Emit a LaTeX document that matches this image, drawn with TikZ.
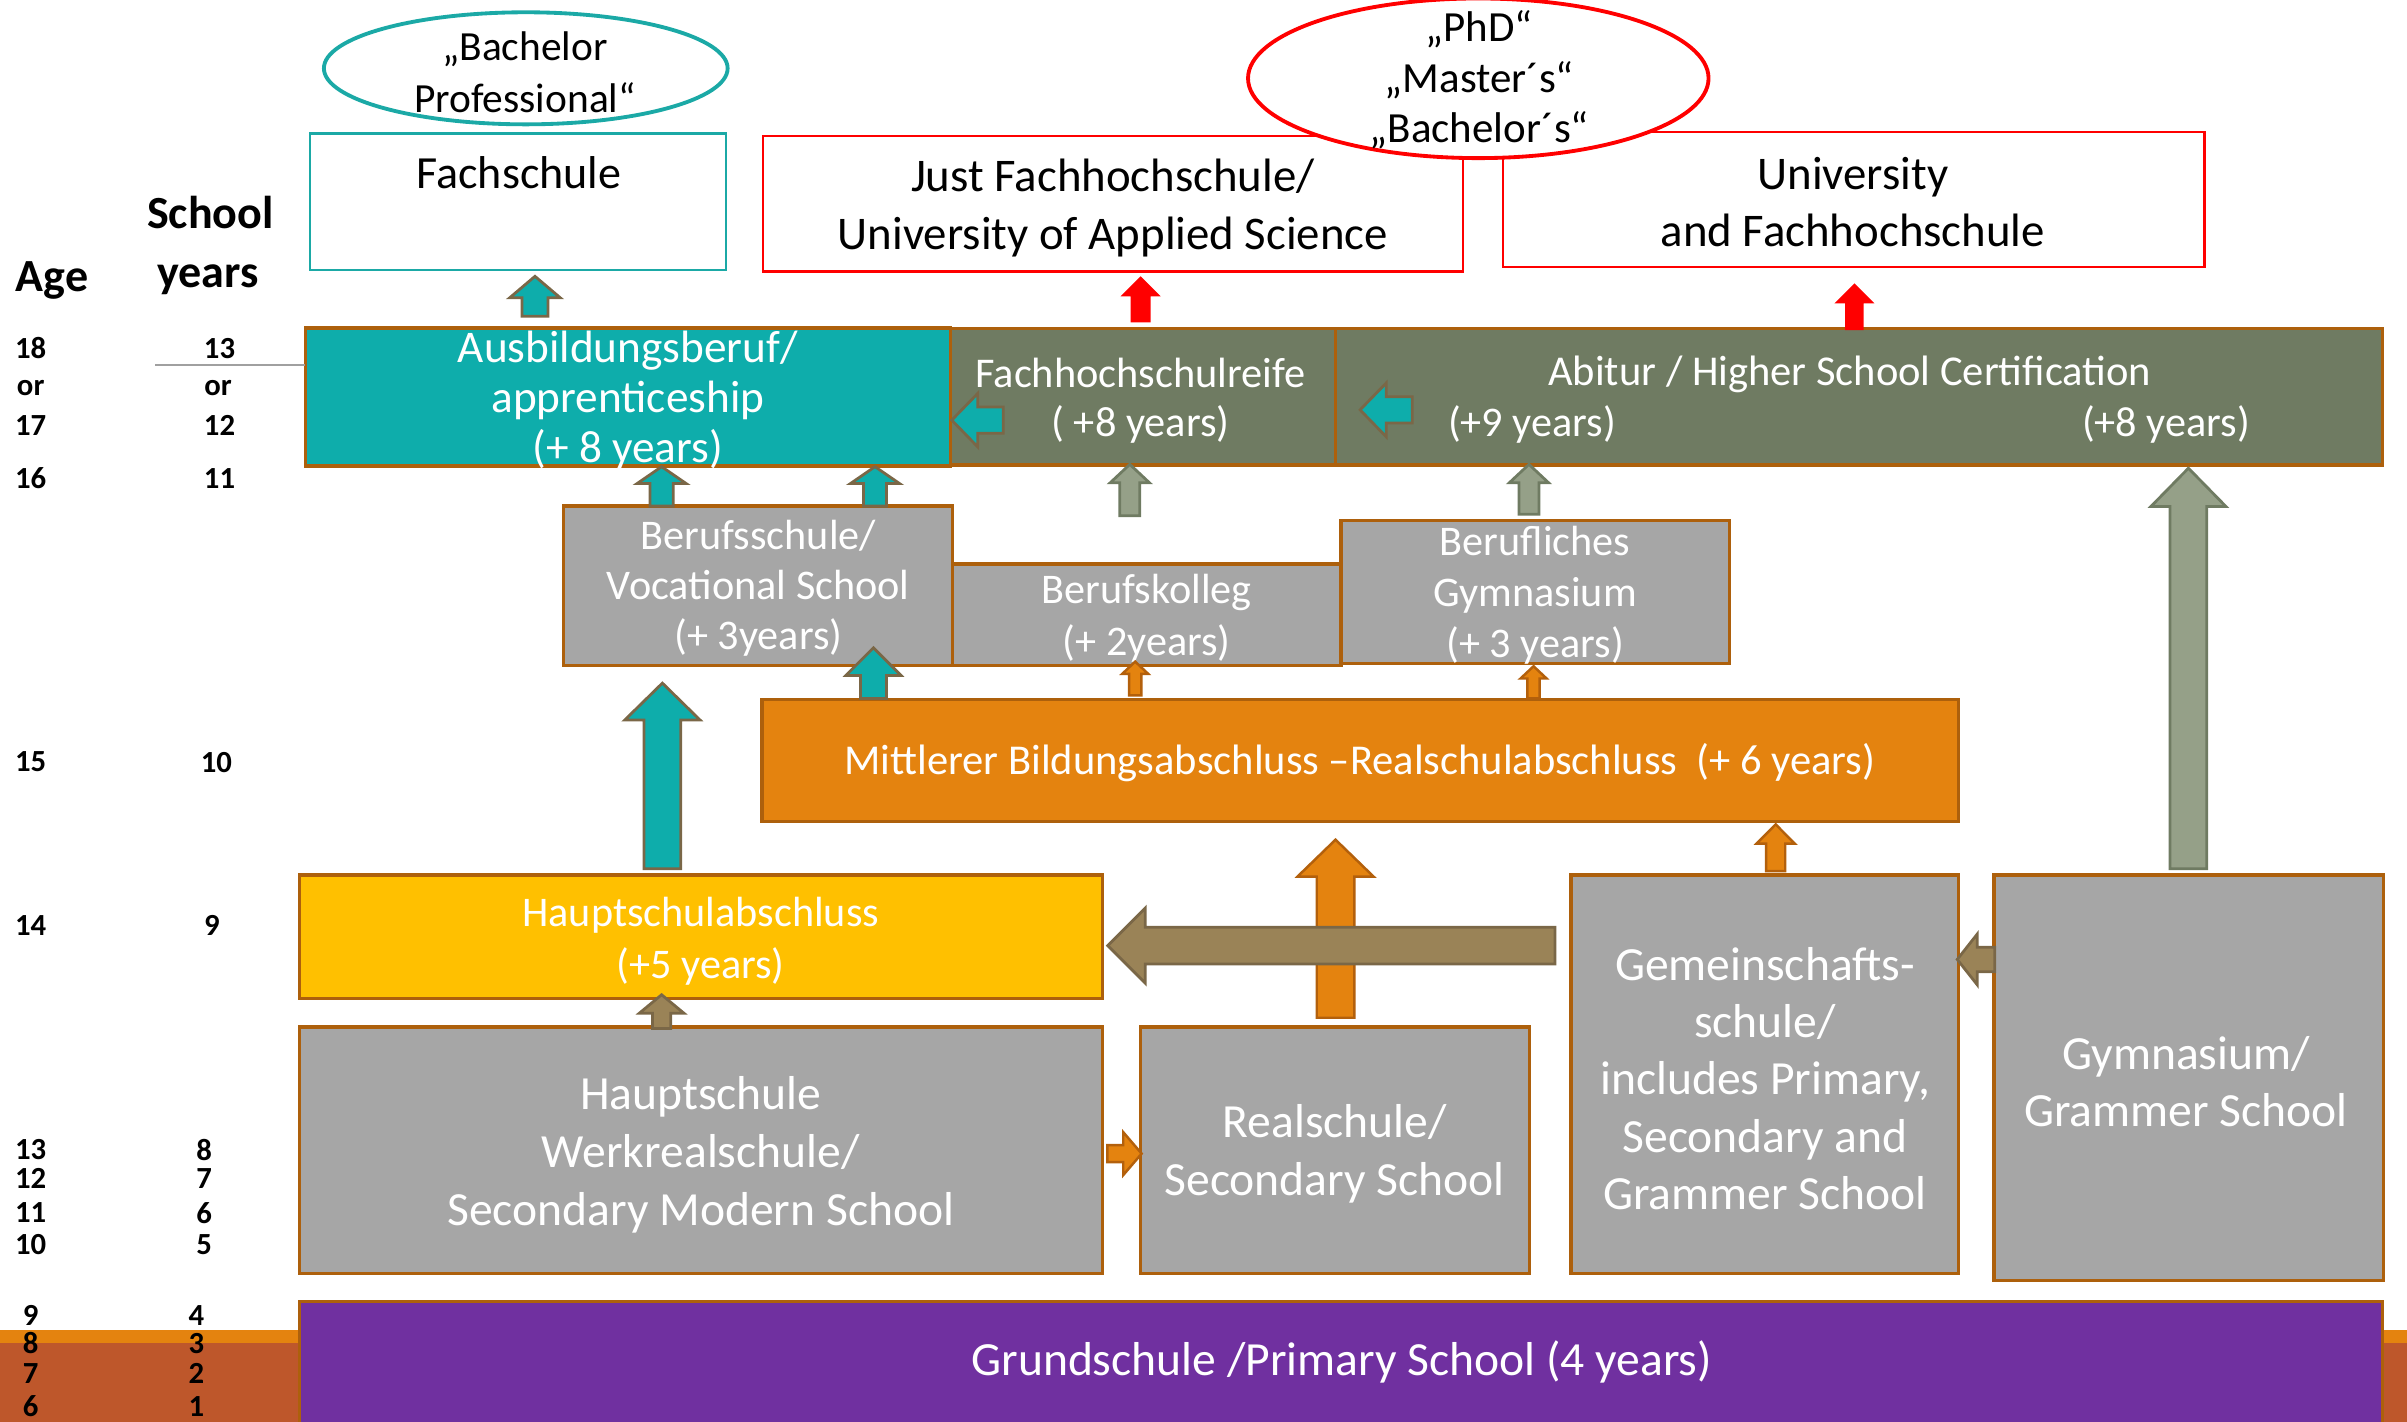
\documentclass[tikz,border=0pt]{standalone}
\usepackage{fontspec}
\setmainfont{Carlito}
\usetikzlibrary{calc,shapes.geometric}
\definecolor{tealc}{HTML}{0EADAB}
\definecolor{tealln}{HTML}{1BA9A6}
\definecolor{olivec}{HTML}{6F7B62}
\definecolor{bordc}{HTML}{AD600C}
\definecolor{grayc}{HTML}{A6A6A6}
\definecolor{orangec}{HTML}{E4830F}
\definecolor{goldc}{HTML}{FFC000}
\definecolor{purplec}{HTML}{7030A0}
\definecolor{rustc}{HTML}{BE572B}
\definecolor{arrbrown}{HTML}{7A6747}
\definecolor{brownc}{HTML}{9A8357}
\definecolor{ggfill}{HTML}{95A088}
\definecolor{orline}{HTML}{B3600C}
\definecolor{redc}{HTML}{FF0000}
\definecolor{linec}{HTML}{A0A0A0}

\newcommand\fs[2]{\fontsize{#1}{#2}\selectfont}
% block arrows: style, start, end, shaft width, head width, head length
\newcommand\blkup[6]{\path[#1] let \p1=(#2), \p2=(#3) in
  ({\x1-#4/2},\y1) -- ({\x1-#4/2},{\y2-#6}) -- ({\x1-#5/2},{\y2-#6}) -- (\x1,\y2)
  -- ({\x1+#5/2},{\y2-#6}) -- ({\x1+#4/2},{\y2-#6}) -- ({\x1+#4/2},\y1) -- cycle;}
\newcommand\blkleft[6]{\path[#1] let \p1=(#2), \p2=(#3) in
  (\x1,{\y1+#4/2}) -- ({\x2+#6},{\y1+#4/2}) -- ({\x2+#6},{\y1+#5/2}) -- (\x2,\y1)
  -- ({\x2+#6},{\y1-#5/2}) -- ({\x2+#6},{\y1-#4/2}) -- (\x1,{\y1-#4/2}) -- cycle;}
\newcommand\blkright[6]{\path[#1] let \p1=(#2), \p2=(#3) in
  (\x1,{\y1+#4/2}) -- ({\x2-#6},{\y1+#4/2}) -- ({\x2-#6},{\y1+#5/2}) -- (\x2,\y1)
  -- ({\x2-#6},{\y1-#5/2}) -- ({\x2-#6},{\y1-#4/2}) -- (\x1,{\y1-#4/2}) -- cycle;}

\tikzset{
  box/.style={draw=bordc, line width=2.2pt, inner sep=0pt, outer sep=0pt, anchor=north west},
  topbox/.style={draw=redc, line width=1.6pt, fill=white, inner sep=0pt, outer sep=0pt, anchor=north west},
  wtxt/.style={inner sep=0pt, align=center, text=white},
  btxt/.style={inner sep=0pt, align=center, text=black},
  num/.style={inner sep=0pt, font=\bfseries\fs{20}{24}},
  tealarr/.style={fill=tealc, draw=arrbrown, line width=1.8pt},
  grarr/.style={fill=ggfill, draw=olivec, line width=1.8pt},
  redarr/.style={fill=redc},
  orarr/.style={fill=orangec, draw=orline, line width=1.6pt},
  brarr/.style={fill=brownc, draw=arrbrown, line width=1.8pt},
}

\begin{document}
\begin{tikzpicture}[x=1pt,y=-1pt]
\useasboundingbox (0,0) rectangle (1568,926);

% background bands
\fill[orangec] (0,866.5) rectangle (1568,875);
\fill[rustc] (0,875) rectangle (1568,940);

% left labels
\node[inner sep=0pt, anchor=base, font=\bfseries\fs{30}{36}] (agehead) at (34,190) {Age};
\node[inner sep=0pt, anchor=base, font=\bfseries\fs{30}{36}] (schoolhead) at (137,149) {School};
\node[inner sep=0pt, anchor=base, font=\bfseries\fs{30}{36}] (yearshead) at (135.5,187) {years};

\foreach \y/\t/\n in {227/18/ag1, 253/or/ag2, 277/17/ag3, 311.5/16/ag4, 496/15/ag5, 603/14/ag6,
  749/13/ag7, 767.6/12/ag8, 790/11/ag9, 811/10/ag10, 857/9/ag11, 875/8/ag12, 895/7/ag13, 916/6/ag14}
  \node[num] (\n) at (20,\y) {\t};
\foreach \x/\y/\t/\n in {143/227/13/sy1, 142/253/or/sy2, 143/277/12/sy3, 143/311.5/11/sy4,
  141/497/10/sy5, 138/603/9/sy6, 133/749/8/sy7, 133/767.6/7/sy8, 133/790/6/sy9, 133/811/5/sy10,
  128/857/4/sy11, 128/875/3/sy12, 128/895/2/sy13, 128/916/1/sy14}
  \node[num] (\n) at (\x,\y) {\t};

% top boxes
\node[topbox, draw=tealln, minimum width=271pt, minimum height=89pt] (fach) at (202,87) {};
\node[topbox, minimum width=456pt, minimum height=88.4pt] (justfh) at (497,88.6) {};
\node[topbox, minimum width=457pt, minimum height=88pt] (uni) at (979,86) {};
\node[ellipse, draw=tealln, line width=2.5pt, fill=white, minimum width=263pt, minimum height=73pt, inner sep=0pt] (bachprof) at (342.5,44.5) {};
\node[ellipse, draw=redc, line width=2.5pt, fill=white, minimum width=300pt, minimum height=104pt, inner sep=0pt] (degrees) at (963,51) {};

\node[btxt, font=\fs{27}{33.7}] (bachproft) at (342,47) {„Bachelor\\Professional“};
\node[btxt, anchor=base, font=\fs{30}{36}] (facht) at (338,123) {Fachschule};
\node[btxt, font=\fs{30.5}{38}] (justfht) at (725,135.4) {Just Fachhochschule/\\University of Applied Science};
\node[btxt, font=\fs{28}{33}] (degreest) at (963.5,52) {„PhD“\\„Master´s“\\„Bachelor´s“};
\node[btxt, font=\fs{30.5}{37}] (unit) at (1207,131.4) {University\\and Fachhochschule};

% certificate row
\node[box, fill=tealc, minimum width=420pt, minimum height=90pt] (ausb) at (199,213.6) {};
\node[box, fill=olivec, minimum width=251pt, minimum height=89pt] (fhr) at (619,214) {};
\node[box, fill=olivec, minimum width=682pt, minimum height=89pt] (abi) at (870,214) {};
\coordinate (lnstart) at (101,238);
\draw[linec, line width=1.2pt] (lnstart) -- (lnstart -| ausb.west);

\node[wtxt, font=\fs{29.5}{32.6}] (ausbt) at (409,260.8) {Ausbildungsberuf/\\apprenticeship\\(+ 8 years)};
\node[wtxt, font=\fs{27.6}{31.5}] (fhrt) at (743,261) {Fachhochschulreife\\( +8 years)};
\node[wtxt, anchor=base, font=\fs{27.7}{32}] (abit) at (1205,251) {Abitur / Higher School Certification};
\node[wtxt, anchor=base, font=\fs{27.5}{32}] (abi9) at (998,284.5) {(+9 years)};
\node[wtxt, anchor=base, font=\fs{27.5}{32}] (abi8) at (1411,284.5) {(+8 years)};

% vocational row
\node[box, fill=grayc, minimum width=253.6pt, minimum height=103.9pt] (bs) at (367,329.7) {};
\node[box, fill=grayc, minimum width=253pt, minimum height=66.1pt] (bk) at (620.6,367.5) {};
\node[box, fill=grayc, minimum width=253.2pt, minimum height=93.5pt] (bg) at (873.6,338.9) {};
\node[wtxt, font=\fs{27.5}{32.4}] (bst) at (494,383.1) {Berufsschule/\\Vocational School\\(+ 3years)};
\node[wtxt, font=\fs{27.5}{33.8}] (bkt) at (747,403) {Berufskolleg\\(+ 2years)};
\node[wtxt, font=\fs{27.5}{33.3}] (bgt) at (1000,387.7) {Berufliches\\Gymnasium\\(+ 3 years)};

% Mittlerer
\node[box, fill=orangec, minimum width=779.6pt, minimum height=79.8pt] (mba) at (496.4,455.5) {};
\node[wtxt, anchor=base, font=\fs{27.7}{32}] (mbat) at (886,504.7) {Mittlerer Bildungsabschluss –Realschulabschluss\ \ (+ 6 years)};

% lower row
\node[box, fill=goldc, minimum width=523pt, minimum height=80.6pt] (hsa) at (195,570) {};
\node[wtxt, font=\fs{27.5}{33.8}] (hsat) at (456.5,613) {Hauptschulabschluss\\(+5 years)};
\node[box, fill=grayc, minimum width=523pt, minimum height=160.5pt] (hs) at (195,669) {};
\node[box, fill=grayc, minimum width=253.4pt, minimum height=160.5pt] (rs) at (743,669) {};
\node[box, fill=grayc, minimum width=252.5pt, minimum height=259.5pt] (gem) at (1023.5,570) {};
\node[box, fill=grayc, minimum width=253.5pt, minimum height=264.3pt] (gym) at (1299,570) {};
\node[wtxt, font=\fs{31}{37.7}] (hst) at (456.5,752.5) {Hauptschule\\Werkrealschule/\\Secondary Modern School};
\node[wtxt, font=\fs{31}{37.8}] (rst) at (869.5,751.9) {Realschule/\\Secondary School};
\node[wtxt, font=\fs{31}{37.4}] (gemt) at (1149.8,702.6) {Gemeinschafts-\\schule/\\includes Primary,\\Secondary and\\Grammer School};
\node[wtxt, font=\fs{31}{36.7}] (gymt) at (1424,704.6) {Gymnasium/\\Grammer School};

% primary
\node[box, fill=purplec, minimum width=1357pt, minimum height=95pt] (grund) at (195,847.7) {};
\node[wtxt, anchor=base, font=\fs{31}{36}] (grundt) at (874,896) {Grundschule /Primary School (4 years)};

% arrow end points
\coordinate (a1s) at (348.5,206);   \coordinate (a1e) at (348.5,180);
\coordinate (a2s) at (743,210);     \coordinate (a2e) at (743,180);
\coordinate (a3s) at (1208,215);    \coordinate (a3e) at (1208,184.6);
\coordinate (a4s) at (653.6,273.7); \coordinate (a4e) at (620,273.7);
\coordinate (a5s) at (920,267);     \coordinate (a5e) at (886,267);
\coordinate (a6s) at (431,329.7);   \coordinate (a6e) at (431,304);
\coordinate (a7s) at (570,329.7);   \coordinate (a7e) at (570,304);
\coordinate (a8s) at (736,336);     \coordinate (a8e) at (736,302.5);
\coordinate (a9s) at (996,335);     \coordinate (a9e) at (996,302.5);
\coordinate (a10s) at (1425.6,566); \coordinate (a10e) at (1425.6,305);
\coordinate (a11s) at (431.5,566);  \coordinate (a11e) at (431.5,445);
\coordinate (a12s) at (569,455);    \coordinate (a12e) at (569,422);
\coordinate (a13s) at (739.5,453);  \coordinate (a13e) at (739.5,431);
\coordinate (a14s) at (999,455);    \coordinate (a14e) at (999,434);
\coordinate (a15s) at (431,670);    \coordinate (a15e) at (431,648);
\coordinate (a16s) at (870,663);    \coordinate (a16e) at (870,547);
\coordinate (a17s) at (1013,616);   \coordinate (a17e) at (721.6,616);
\coordinate (a18s) at (1156.7,567.5); \coordinate (a18e) at (1156.7,537);
\coordinate (a19s) at (1299.4,625); \coordinate (a19e) at (1275,625);
\coordinate (a20s) at (721.4,751.5); \coordinate (a20e) at (743.7,751.5);

% arrows
\blkup{tealarr}{a1s}{a1e}{17}{33}{14}
\blkup{redarr}{a2s}{a2e}{13}{26}{13}
\blkup{redarr}{a3s}{a3e}{12}{26}{13}
\blkleft{tealarr}{a4s}{a4e}{17}{35}{17}
\blkleft{tealarr}{a5s}{a5e}{17}{35}{17}
\blkup{tealarr}{a6s}{a6e}{15}{32}{11}
\blkup{tealarr}{a7s}{a7e}{15}{32}{11}
\blkup{grarr}{a8s}{a8e}{13}{25.6}{12}
\blkup{grarr}{a9s}{a9e}{13}{25.6}{12}
\blkup{grarr}{a10s}{a10e}{24}{49}{25}
\blkup{tealarr}{a11s}{a11e}{24}{49}{24}
\blkup{tealarr}{a12s}{a12e}{17}{36}{18}
\blkup{orarr}{a13s}{a13e}{8}{17}{8}
\blkup{orarr}{a14s}{a14e}{8}{17}{8}
\blkup{brarr}{a15s}{a15e}{12}{29}{12}
\blkup{orarr}{a16s}{a16e}{24.5}{49.5}{24}
\blkleft{brarr}{a17s}{a17e}{24}{49}{24.5}
\blkup{orarr}{a18s}{a18e}{12.5}{25}{12.6}
\blkleft{brarr}{a19s}{a19e}{16}{33}{13}
\blkright{orarr}{a20s}{a20e}{11}{28}{12}
\end{tikzpicture}
\end{document}
